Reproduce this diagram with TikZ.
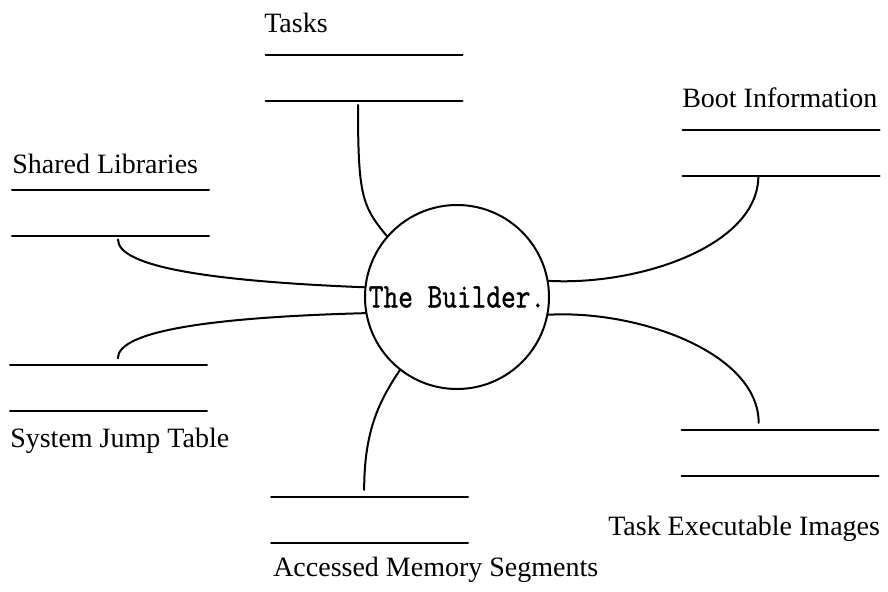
\documentclass[tikz,border=0pt]{standalone}
\usepackage{fontspec,graphicx}
\setmainfont{Liberation Serif}
\newfontfamily\procfont[RawFeature={embolden=1.2}]{Latin Modern Mono}
\tikzset{
  store/.style={minimum width=147.75pt,minimum height=34.5pt,inner sep=0pt,outer sep=0pt},
  storeline/.style={line width=1.5pt},
  process/.style={circle,draw,line width=1.5pt,minimum size=138pt,inner sep=0pt,font=\fontsize{21.4}{24}\procfont},
  lbl/.style={anchor=base west,inner sep=0pt,font=\fontsize{21}{24}\selectfont},
  flow/.style={line width=1.5pt}
}
\begin{document}
\begin{tikzpicture}[line cap=round,line join=round,x=0.75pt,y=0.75pt]
			\useasboundingbox (0,0) rectangle (888,-592);
			% the process
			\node[process] (builder) at (457,-297) {\scalebox{1}[1.2]{The Builder.}};
			% the data stores
			\node[store] (tasks) at (364,-78) {};
			\node[store] (boot) at (781,-153) {};
			\node[store] (shlib) at (110.5,-212.5) {};
			\node[store] (jumptab) at (108.5,-388) {};
			\node[store] (execimg) at (780,-452.5) {};
			\node[store] (memseg) at (369.5,-519.5) {};
			\foreach \s in {tasks,boot,shlib,jumptab,execimg,memseg}
				\draw [storeline] (\s.north west)-- (\s.north east) (\s.south west)-- (\s.south east);
			\node[lbl] (tasksl) at (264,-33) {Tasks};
			\node[lbl] (bootl) at (682,-107) {Boot Information};
			\node[lbl] (shlibl) at (12,-173) {Shared Libraries};
			\node[lbl] (jumptabl) at (10,-447) {System Jump Table};
			\node[lbl] (execimgl) at (608,-535) {Task Executable Images};
			\node[lbl] (memsegl) at (273,-576) {Accessed Memory Segments};
			% the flows
			\draw [flow] ([xshift=-4.5pt,yshift=-3pt]tasks.south) .. controls +(0,-90) and +(-25,30) .. (builder.139);
			\draw [flow] ([xshift=5.6pt,yshift=-3pt]shlib.south) .. controls +(0,-28) and +(-150,6) .. (builder.174);
			\draw [flow] ([xshift=7pt,yshift=5pt]jumptab.north) .. controls +(0,28) and +(-150,-4) .. (builder.190);
			\draw [flow] ([xshift=-4pt,yshift=5pt]memseg.north) .. controls +(0,60) and +(-20,-30) .. (builder.232);
			\draw [flow] ([xshift=-17pt]boot.south) .. controls +(0,-70) and +(90,-5) .. (builder.10);
			\draw [flow] ([xshift=-16pt,yshift=5pt]execimg.north) .. controls +(0,70) and +(90,5) .. (builder.349);
		\end{tikzpicture}
\end{document}
